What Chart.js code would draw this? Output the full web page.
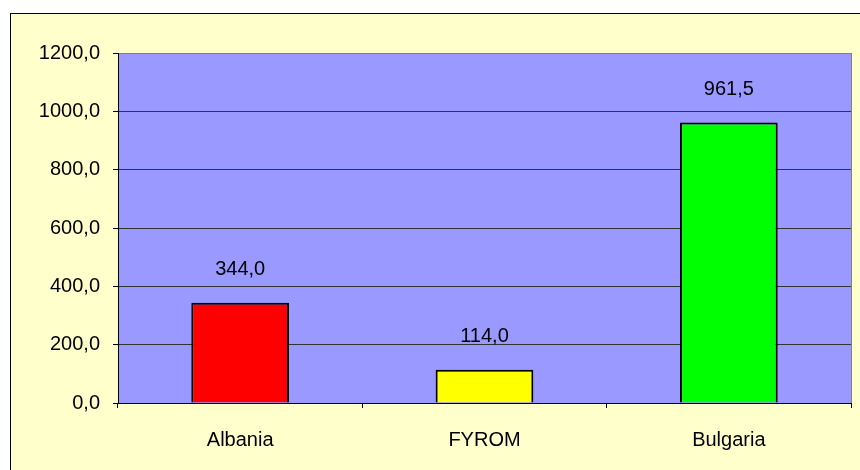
<!DOCTYPE html>
<html>
<head>
    <title>Bar Chart</title>
    <script src="https://cdn.jsdelivr.net/npm/chart.js"></script>
    <style>
        body { margin: 0; background: #ffffff; }
    </style>
</head>
<body>
    <canvas id="barChart" width="860" height="470"></canvas>

    <script>
        const countries = ['Albania', 'FYROM', 'Bulgaria'];
        const values = [344.0, 114.0, 961.5];
        const barColors = ['#ff0000', '#ffff00', '#00ff00'];
        const yTicks = [0, 200, 400, 600, 800, 1000, 1200];

        const fmt = v => Number(v).toFixed(1).replace('.', ',');

        // frame + plot area background
        const backdrop = {
            id: 'backdrop',
            beforeDraw(chart) {
                const c = chart.ctx;
                const a = chart.chartArea;
                c.save();
                c.fillStyle = '#ffffff';
                c.fillRect(0, 0, chart.width, chart.height);
                c.fillStyle = '#ffffcc';
                c.fillRect(10, 13, chart.width, chart.height);
                c.strokeStyle = '#000000';
                c.lineWidth = 1;
                c.strokeRect(10.5, 13.5, chart.width + 10, chart.height + 10);
                c.fillStyle = '#9999ff';
                c.fillRect(a.left, a.top, a.right - a.left, a.bottom - a.top);
                c.strokeStyle = '#808080';
                c.strokeRect(a.left + 0.5, a.top + 0.5, a.right - a.left, a.bottom - a.top);
                c.restore();
            }
        };

        const valueLabels = {
            id: 'valueLabels',
            afterDatasetsDraw(chart) {
                const c = chart.ctx;
                c.save();
                c.font = '20px "Liberation Sans", Arial, sans-serif';
                c.fillStyle = '#000000';
                c.textAlign = 'center';
                c.textBaseline = 'middle';
                chart.getDatasetMeta(0).data.forEach((bar, i) => {
                    c.fillText(fmt(values[i]), bar.x, bar.y - 33);
                });
                c.restore();
            }
        };

        const ctx = document.getElementById('barChart').getContext('2d');
        const chart = new Chart(ctx, {
            type: 'bar',
            data: {
                labels: countries,
                datasets: [{
                    data: values,
                    backgroundColor: barColors,
                    borderColor: '#000000',
                    borderWidth: 2,
                    categoryPercentage: 1.0,
                    barPercentage: 0.4
                }]
            },
            options: {
                responsive: false,
                animation: false,
                layout: { padding: { left: 0, top: 53, right: 9, bottom: 0 } },
                plugins: {
                    legend: { display: false },
                    tooltip: { enabled: false }
                },
                scales: {
                    x: {
                        afterFit: s => { s.height = 67; },
                        grid: {
                            offset: true,
                            drawOnChartArea: false,
                            drawTicks: true,
                            tickLength: 5,
                            color: '#000000'
                        },
                        border: { color: '#000000', width: 1 },
                        ticks: {
                            color: '#000000',
                            padding: 20,
                            font: { family: '"Liberation Sans", Arial, sans-serif', size: 20 }
                        }
                    },
                    y: {
                        min: 0,
                        max: 1200,
                        afterFit: s => { s.width = 118; },
                        afterBuildTicks: s => { s.ticks = yTicks.map(v => ({ value: v })); },
                        grid: {
                            color: c => c.tick && c.tick.value === 1200 ? '#808080' : '#333333',
                            tickColor: '#000000',
                            tickLength: 5
                        },
                        border: { color: '#000000', width: 1 },
                        ticks: {
                            color: '#000000',
                            padding: 13,
                            callback: v => fmt(v),
                            font: { family: '"Liberation Sans", Arial, sans-serif', size: 20 }
                        }
                    }
                }
            },
            plugins: [backdrop, valueLabels]
        });
    </script>
</body>
</html>
